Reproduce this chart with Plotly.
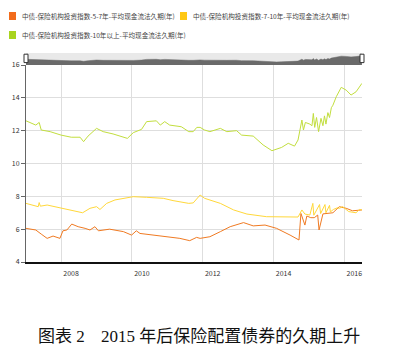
import plotly.graph_objects as go

# ---------------- data ----------------
green_dates = ["2007-01-04","2007-02-15","2007-04-15","2007-05-20","2007-06-10","2007-09-10",
    "2008-01-01","2008-04-15","2008-07-15","2008-08-20","2008-10-05","2009-01-01","2009-03-10",
    "2009-06-20","2009-10-05","2009-11-15","2010-01-15","2010-04-10","2010-06-01","2010-09-10",
    "2010-10-20","2010-12-05","2011-01-25","2011-05-25","2011-08-10","2011-09-25","2011-11-01",
    "2011-12-05","2012-01-20","2012-03-15","2012-07-01","2012-09-05","2012-12-15","2013-02-05",
    "2013-06-05","2013-09-15","2013-12-15","2014-02-01","2014-03-25","2014-06-01","2014-08-05",
    "2014-09-10","2014-10-20","2014-11-05","2014-11-25","2015-01-10","2015-02-01","2015-02-15",
    "2015-03-01","2015-03-20","2015-04-10","2015-05-05","2015-05-25","2015-06-10","2015-06-25",
    "2015-07-15","2015-08-01","2015-08-20","2015-09-05","2015-10-10","2015-11-30","2016-01-20",
    "2016-03-10","2016-05-01","2016-06-30"]
green_vals = [12.6,12.5,12.34,12.5,12.04,11.94,
    11.73,11.6,11.6,11.33,11.67,12.14,11.94,
    11.8,11.6,11.53,11.88,12.08,12.55,12.6,
    12.34,12.55,12.34,12.24,11.94,11.94,12.2,
    12.2,12.04,11.94,12.14,11.94,12.0,11.73,
    11.67,11.13,10.78,10.86,10.98,11.23,11.06,
    11.43,12.65,12.04,12.5,12.4,12.3,13.05,
    12.2,12.8,11.94,12.75,12.3,12.9,12.4,
    13.1,12.8,13.4,13.55,14.07,14.64,14.47,
    14.17,14.37,14.88]

yellow_dates = ["2007-01-04","2007-03-20","2007-05-10","2007-05-20","2007-06-01","2007-08-10",
    "2008-01-01","2008-04-15","2008-08-10","2008-10-25","2009-01-01","2009-02-05","2009-04-15",
    "2009-07-10","2009-10-05","2010-01-15","2010-06-01","2010-11-20","2011-03-01","2011-08-10",
    "2011-09-25","2011-11-10","2011-12-05","2012-01-20","2012-07-01","2012-11-15","2013-04-01",
    "2013-10-20","2014-04-10","2014-09-10","2014-10-20","2014-11-20","2015-01-10","2015-02-10",
    "2015-02-20","2015-04-20","2015-05-01","2015-06-15","2015-06-25","2015-08-01","2015-08-10",
    "2015-09-10","2015-10-20","2015-11-10","2015-12-15","2016-02-15","2016-04-30","2016-06-05",
    "2016-06-30"]
yellow_vals = [7.57,7.45,7.37,7.62,7.4,7.47,
    7.27,7.17,7.0,7.27,7.37,7.2,7.57,
    7.78,7.88,7.98,7.94,7.88,7.74,7.57,
    7.6,7.9,8.08,7.88,7.57,7.17,6.92,
    6.76,6.74,6.74,7.17,6.92,6.86,7.57,
    6.85,7.5,6.95,7.5,7.0,7.45,7.05,
    7.2,7.3,7.27,7.37,7.07,7.0,7.2,
    7.17]

orange_dates = ["2007-01-04","2007-04-15","2007-06-10","2007-08-10","2007-10-10","2007-12-20",
    "2008-01-20","2008-03-01","2008-04-20","2008-06-25","2008-09-05","2008-10-25","2008-12-15",
    "2009-01-20","2009-05-15","2009-10-05","2009-12-28","2010-02-15","2010-03-25","2010-08-05",
    "2010-12-25","2011-05-10","2011-08-20","2011-10-30","2011-12-05","2012-03-15","2012-07-01",
    "2012-10-10","2013-02-25","2013-06-05","2013-10-05","2014-02-01","2014-06-20","2014-09-20",
    "2014-10-10","2014-11-20","2014-12-10","2015-01-20","2015-02-25","2015-04-01","2015-04-15",
    "2015-05-25","2015-09-05","2015-11-10","2016-01-20","2016-03-25","2016-06-30"]
orange_vals = [6.05,5.95,5.7,5.44,5.58,5.44,
    5.9,5.95,6.31,6.15,6.05,5.95,6.15,
    5.9,6.0,5.85,5.64,5.9,5.74,5.64,
    5.54,5.44,5.3,5.5,5.44,5.54,5.85,
    6.15,6.4,6.2,6.25,6.05,5.64,5.34,
    6.96,6.25,6.8,6.7,6.7,6.86,5.95,
    6.93,7.0,7.37,7.27,7.12,7.17]

series_names = ["中债-保险机构投资指数-5-7年-平均现金流法久期(年)",
                "中债-保险机构投资指数-7-10年-平均现金流法久期(年)",
                "中债-保险机构投资指数-10年以上-平均现金流法久期(年)"]
line_colors = ["#F07A22", "#FFD83A", "#C2DE3E"]
legend_colors = ["#F26B1B", "#FFC814", "#A9D41E"]
caption_left = "图表 2"
caption_right = "2015 年后保险配置债券的久期上升"

# ---------------- geometry helpers ----------------
W, H = 400, 349
ML, MR, MT, MB = 26, 38, 53, 87
PW, PH = W - ML - MR, H - MT - MB


def px(x):
    return (x - ML) / PW


def py(y):
    return (H - MB - y) / PH


fig = go.Figure()
for d, v, c, n in [(orange_dates, orange_vals, line_colors[0], series_names[0]),
                   (yellow_dates, yellow_vals, line_colors[1], series_names[1]),
                   (green_dates, green_vals, line_colors[2], series_names[2])]:
    fig.add_trace(go.Scatter(x=d, y=v, mode="lines", name=n,
                             line=dict(color=c, width=1), showlegend=False,
                             xaxis="x", yaxis="y"))

# navigator
fig.add_trace(go.Scatter(x=green_dates, y=green_vals, mode="lines", fill="tozeroy",
                         fillcolor="#6a6a6a", line=dict(color="#6a6a6a", width=0.5),
                         showlegend=False, xaxis="x2", yaxis="y2", hoverinfo="skip"))

main_top = py(65)
xr = ["2007-01-04", "2016-07-01"]
fig.update_layout(
    width=W, height=H, autosize=False,
    margin=dict(l=ML, r=MR, t=MT, b=MB, pad=0),
    paper_bgcolor="white", plot_bgcolor="white",
    font=dict(family="Noto Sans CJK SC, Noto Sans, sans-serif", color="#333"),
    xaxis=dict(type="date", range=xr, domain=[0, 1], anchor="y",
               tick0="2008-01-01", dtick="M24", tickformat="%Y",
               showgrid=True, gridcolor="#dedede", gridwidth=1,
               showline=True, linecolor="#111", linewidth=2,
               ticks="", tickfont=dict(size=7, color="#333"),
               ticklabelshift=10, ticklabelstandoff=4, zeroline=False),
    yaxis=dict(range=[4, 16], domain=[0, main_top], anchor="x",
               dtick=2, showgrid=True, gridcolor="#dedede", gridwidth=1,
               showline=True, linecolor="#666", linewidth=1,
               ticks="outside", ticklen=4, tickcolor="#666",
               tickfont=dict(size=7, color="#333"), zeroline=False),
    xaxis2=dict(type="date", range=xr, domain=[0, 1], anchor="y2", matches="x",
                showticklabels=False, showgrid=False, showline=False, ticks=""),
    yaxis2=dict(range=[8.9, 16.7], domain=[main_top, 1], anchor="x2",
                showticklabels=False, showgrid=False, showline=False,
                ticks="", zeroline=False),
)

shapes = []
# navigator background
shapes.append(dict(type="rect", xref="x2 domain", yref="y2 domain", x0=0, x1=1, y0=0, y1=1,
                   fillcolor="#e9e9e9", line=dict(width=0), layer="below"))
# navigator handles
for xa in [0, 1]:
    shapes.append(dict(type="rect", xref="x2 domain", yref="y2 domain",
                       xsizemode="pixel", xanchor=xa, x0=-2, x1=2, y0=0.2, y1=0.9,
                       fillcolor="white", line=dict(color="#333", width=1)))

# legend squares + text
legend_pos = [(9, 16, 20), (180, 16, 191), (9, 35, 20)]
annotations = []
for (sx, cy, tx), col, name in zip(legend_pos, legend_colors, series_names):
    shapes.append(dict(type="rect", xref="paper", yref="paper",
                       x0=px(sx), x1=px(sx + 7), y0=py(cy + 4), y1=py(cy - 4),
                       fillcolor=col, line=dict(width=0)))
    annotations.append(dict(xref="paper", yref="paper", x=px(tx), y=py(cy),
                            xanchor="left", yanchor="middle", showarrow=False,
                            text=name, font=dict(size=6.6, color="#444")))

cap_font = dict(family="Liberation Serif, Noto Sans CJK SC", size=17, color="#111")
annotations.append(dict(xref="paper", yref="paper", x=px(36), y=py(336),
                        xanchor="left", yanchor="middle", showarrow=False,
                        text=caption_left, font=cap_font))
annotations.append(dict(xref="paper", yref="paper", x=px(99), y=py(336),
                        xanchor="left", yanchor="middle", showarrow=False,
                        text=caption_right, font=cap_font))

fig.update_layout(shapes=shapes, annotations=annotations)
fig.write_html("out.html")
